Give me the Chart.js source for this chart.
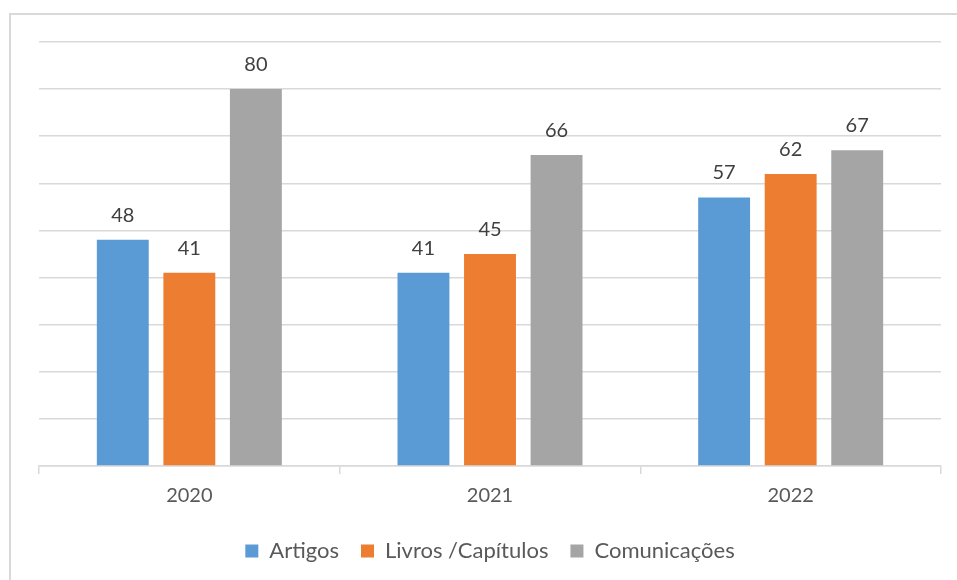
<!DOCTYPE html>
<html lang="pt">
<head>
  <meta charset="UTF-8">
  <title>Publicações por ano</title>
  <script src="https://cdn.jsdelivr.net/npm/chart.js"></script>
  <style>
   html, body { margin: 0; padding: 0; background: #fff; overflow: hidden; }
   #frame { position: absolute; left: 9px; top: 13px; width: 1000px; height: 1000px; border: 2px solid #d9d9d9; }
   #wrap  { position: absolute; left: 0; top: 0; width: 957px; height: 580px; }
  </style>
</head>
<body>
  <div id="frame"></div>
  <div id="wrap"><canvas id="myChart" width="957" height="580"></canvas></div>

  <script>
    // values
    const years        = ['2020', '2021', '2022'];
    const artigos      = [48, 41, 57];
    const livros       = [41, 45, 62];
    const comunicacoes = [80, 66, 67];
    const yTicks       = [0, 10, 20, 30, 40, 50, 60, 70, 80, 90];

    const fontFamily = 'Lato, "Open Sans", sans-serif';

    // value labels above each bar (positions come from the bar elements)
    const valueLabels = {
      id: 'valueLabels',
      afterDatasetsDraw(chart) {
        const ctx = chart.ctx;
        ctx.save();
        ctx.font = '20px ' + fontFamily;
        ctx.fillStyle = '#404040';
        ctx.textAlign = 'center';
        ctx.textBaseline = 'alphabetic';
        chart.data.datasets.forEach((ds, i) => {
          chart.getDatasetMeta(i).data.forEach((bar, j) => {
            ctx.fillText(ds.data[j], bar.x, bar.y - 18);
          });
        });
        ctx.restore();
      }
    };

    // nudge the legend a little lower, like in the original
    const legendNudge = {
      id: 'legendNudge',
      afterLayout(chart) {
        if (chart.legend) { chart.legend.top += 3; chart.legend.bottom += 3; }
      }
    };

    const ctx = document.getElementById('myChart').getContext('2d');
    const myChart = new Chart(ctx, {
      type: 'bar',
      data: {
        labels: years,
        datasets: [
          { label: 'Artigos',           data: artigos,      backgroundColor: '#5B9BD5' },
          { label: 'Livros /Capítulos', data: livros,       backgroundColor: '#ED7D31' },
          { label: 'Comunicações',      data: comunicacoes, backgroundColor: '#A5A5A5' }
        ]
      },
      options: {
        responsive: false,
        animation: false,
        datasets: { bar: { categoryPercentage: 0.664, barPercentage: 0.78 } },
        layout: { padding: { left: 39, right: 16, top: 42, bottom: 11 } },
        scales: {
          x: {
            afterFit: axis => { axis.height = 49; },
            grid: { drawOnChartArea: false, drawTicks: true, tickLength: 8, color: '#d9d9d9', lineWidth: 1.5 },
            border: { color: '#d9d9d9', width: 1.5 },
            ticks: { color: '#595959', font: { family: fontFamily, size: 20 }, padding: 10 }
          },
          y: {
            min: 0, max: 90,
            afterBuildTicks: axis => { axis.ticks = yTicks.map(v => ({ value: v })); },
            grid: { color: '#d9d9d9', lineWidth: 1.5, drawTicks: false },
            border: { display: false },
            ticks: { display: false }
          }
        },
        plugins: {
          tooltip: { enabled: false },
          legend: {
            display: true, position: 'bottom',
            labels: { color: '#595959', font: { family: fontFamily, size: 22 }, boxWidth: 13, boxHeight: 13, padding: 22 }
          }
        }
      },
      plugins: [valueLabels, legendNudge]
    });
  </script>
</body>
</html>
